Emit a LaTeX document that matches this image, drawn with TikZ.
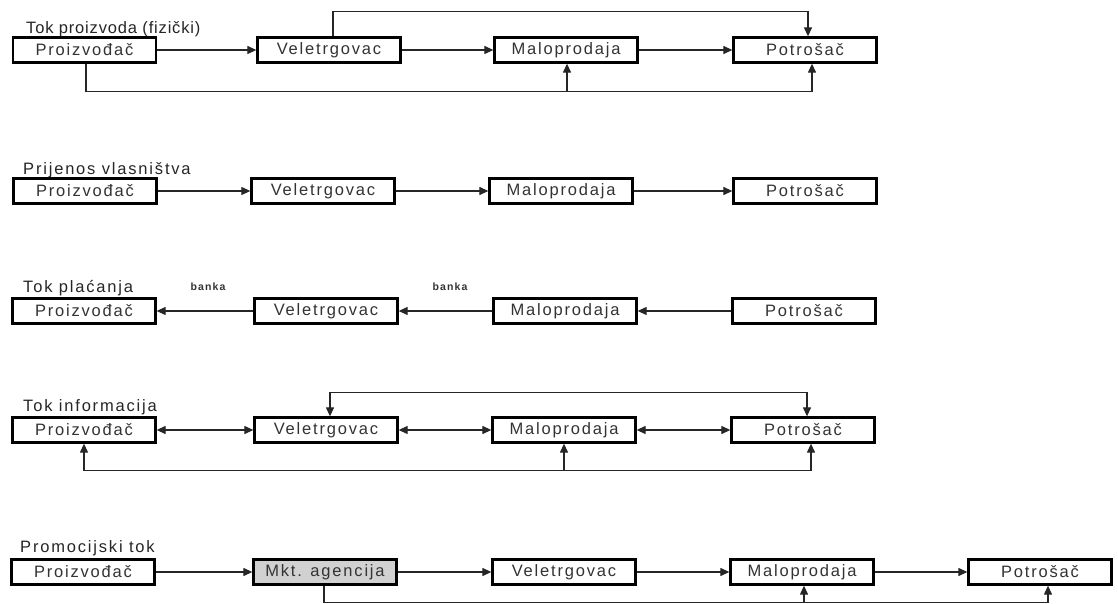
\documentclass[tikz,border=0pt]{standalone}
\usepackage{fontspec}
\setmainfont{Liberation Sans}
\newfontfamily\boxfont[LetterSpace=11]{Liberation Sans}
\newfontfamily\narrowfont[LetterSpace=5]{Liberation Sans}
\usetikzlibrary{arrows.meta,calc}
\begin{document}
\begin{tikzpicture}[x=1pt,y=-1pt,
  box/.style={draw=black, line width=2.3pt, minimum width=143pt, minimum height=25pt, inner sep=0pt,
    font=\boxfont\fontsize{16.5}{18}\selectfont, text=black!80},
  ttl/.style={anchor=base west, inner sep=0pt, font=\boxfont\fontsize{16.5}{18}\selectfont, text=black!85},
  bank/.style={inner sep=0pt, font=\boxfont\fontsize{10.5}{12}\selectfont\bfseries, text=black!80},
  conn/.style={line width=1.2pt, draw=black!85},
  arr/.style={conn, -{Triangle[length=9pt,width=8pt]}},
  darr/.style={conn, {Triangle[length=9pt,width=8pt]}-{Triangle[length=9pt,width=8pt]}}]
\useasboundingbox[fill=white] (0,0) rectangle (1118,604);

% Row 1
\node[ttl, font=\narrowfont\fontsize{16.5}{18}\selectfont] (t1) at (26,34) {Tok proizvoda (fizički)};
\node[box] (p1) at (84.5,50) {Proizvođač};
\node[box] (v1) at (329,50) {Veletrgovac};
\node[box] (m1) at (566,50) {Maloprodaja};
\node[box] (c1) at (805,50) {Potrošač};
\draw[arr] (p1) -- (v1);
\draw[arr] (v1) -- (m1);
\draw[arr] (m1) -- (c1);
\draw[arr] ([xshift=4pt]v1.north) -- ++(0,-25) -| ([xshift=3pt]c1.north);
\draw[arr] ([xshift=1.5pt]p1.south) -- ++(0,28) coordinate (b1) -| ([xshift=7pt]c1.south);
\draw[arr] ([xshift=1pt]b1 -| m1.south) -- ([xshift=1pt]m1.south);

% Row 2
\node[ttl] (t2) at (23,175) {Prijenos vlasništva};
\node[box] (p2) at (85,191) {Proizvođač};
\node[box] (v2) at (323,191) {Veletrgovac};
\node[box] (m2) at (561,191) {Maloprodaja};
\node[box] (c2) at (805,191) {Potrošač};
\draw[arr] (p2) -- (v2);
\draw[arr] (v2) -- (m2);
\draw[arr] (m2) -- (c2);

% Row 3
\node[ttl] (t3) at (23,292) {Tok plaćanja};
\node[bank] (k1) at (208,287) {banka};
\node[bank] (k2) at (450,287) {banka};
\node[box] (p3) at (84,311) {Proizvođač};
\node[box] (v3) at (326,311) {Veletrgovac};
\node[box] (m3) at (565,311) {Maloprodaja};
\node[box] (c3) at (804,311) {Potrošač};
\draw[arr] (c3) -- (m3);
\draw[arr] (m3) -- (v3);
\draw[arr] (v3) -- (p3);

% Row 4
\node[ttl] (t4) at (23,411) {Tok informacija};
\node[box] (p4) at (84,430) {Proizvođač};
\node[box] (v4) at (326,430) {Veletrgovac};
\node[box] (m4) at (564,430) {Maloprodaja};
\node[box] (c4) at (803,430) {Potrošač};
\draw[darr] (p4) -- (v4);
\draw[darr] (v4) -- (m4);
\draw[darr] (m4) -- (c4);
\draw[darr] ([xshift=4pt]v4.north) -- ++(0,-24) -| ([xshift=4pt]c4.north);
\draw[darr] (p4.south) -- ++(0,27) coordinate (b4) -| ([xshift=8pt]c4.south);
\draw[arr] (b4 -| m4.south) -- (m4.south);

% Row 5
\node[ttl] (t5) at (20,552) {Promocijski tok};
\node[box] (p5) at (83,572) {Proizvođač};
\node[box, fill=black!18] (a5) at (325,572) {Mkt. agencija};
\node[box] (v5) at (564,572) {Veletrgovac};
\node[box] (m5) at (802,572) {Maloprodaja};
\node[box] (c5) at (1040,572) {Potrošač};
\draw[arr] (p5) -- (a5);
\draw[arr] (a5) -- (v5);
\draw[arr] (v5) -- (m5);
\draw[arr] (m5) -- (c5);
\draw[arr] ([xshift=-1pt]a5.south) -- ++(0,17) coordinate (b5) -| ([xshift=8pt]c5.south);
\draw[arr] ([xshift=2pt]b5 -| m5.south) -- ([xshift=2pt]m5.south);
\end{tikzpicture}
\end{document}
